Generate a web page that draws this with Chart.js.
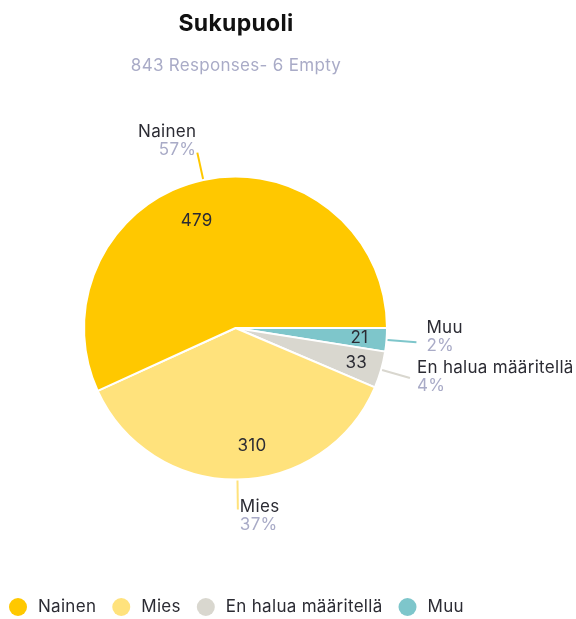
<!DOCTYPE html>
<html>
  <head>
    <meta charset="utf-8">
    <title>Sukupuoli</title>
    <style>
      html, body { margin: 0; padding: 0; background-color: #ffffff; }
      #wrap { position: relative; width: 576px; height: 619px; }
    </style>
    <script src="https://cdn.jsdelivr.net/npm/chart.js"></script>
  </head>
  <body>
    <div id="wrap">
      <canvas id="myChart" width="576" height="619"></canvas>
    </div>

    <script>
      // Data (legend order)
      const categories = ['Nainen', 'Mies', 'En halua määritellä', 'Muu'];
      const counts = [479, 310, 33, 21];
      const percents = ['57%', '37%', '4%', '2%'];
      const colors = ['#FFC800', '#FFE27C', '#D9D7CF', '#7EC6CB'];
      const titleText = 'Sukupuoli';
      const subtitleText = '843 Responses- 6 Empty';

      // slices run counter-clockwise from 3 o'clock in the reference,
      // Chart.js goes clockwise, so feed them in reverse
      const order = [3, 2, 1, 0];

      const FONT = 'Inter, "Noto Sans", sans-serif';
      const DARK = '#2b2b33';
      const GREY = '#A9ABC7';

      // leader line length + text placement per category
      const leader = [
        { len: 28, align: 'right', dx: -1, dy1: -21, dy2: -3 },   // Nainen
        { len: 30, align: 'left',  dx: 2,  dy1: -3,  dy2: 15 },   // Mies
        { len: 30, align: 'left',  dx: 7,  dy1: -10, dy2: 8 },    // En halua
        { len: 30, align: 'left',  dx: 10, dy1: -14, dy2: 4 }     // Muu
      ];
      // inside value labels: radius fraction + pixel nudge
      const inner = [
        { r: 0.74, nx: -15, ny: 2 },
        { r: 0.78, nx: 15, ny: 0 },
        { r: 0.83, nx: 0, ny: 0 },
        { r: 0.82, nx: 0, ny: 0 }
      ];

      function setFont(c, spec) {
        c.font = spec + ' ' + FONT;
        c.letterSpacing = '0.3px';
      }

      const labelPlugin = {
        id: 'pieLabels',
        afterDatasetsDraw(chart) {
          const ctx = chart.ctx;
          const meta = chart.getDatasetMeta(0);
          ctx.save();
          meta.data.forEach((arc, i) => {
            const c = order[i];
            const p = arc.getProps(['x', 'y', 'startAngle', 'endAngle', 'outerRadius'], true);
            const mid = (p.startAngle + p.endAngle) / 2;
            const cos = Math.cos(mid), sin = Math.sin(mid);

            // value inside slice
            const iv = inner[c];
            setFont(ctx, '17px');
            ctx.fillStyle = DARK;
            ctx.textAlign = 'center';
            ctx.textBaseline = 'middle';
            ctx.fillText(String(counts[c]), p.x + cos * p.outerRadius * iv.r + iv.nx, p.y + sin * p.outerRadius * iv.r + iv.ny);

            // leader line
            const L = leader[c];
            const sx = p.x + cos * (p.outerRadius + 1);
            const sy = p.y + sin * (p.outerRadius + 1);
            const ex = p.x + cos * (p.outerRadius + L.len);
            const ey = p.y + sin * (p.outerRadius + L.len);
            ctx.strokeStyle = colors[c];
            ctx.lineWidth = 2;
            ctx.beginPath();
            ctx.moveTo(sx, sy);
            ctx.lineTo(ex, ey);
            ctx.stroke();

            // outside text
            ctx.textAlign = L.align;
            setFont(ctx, '17px');
            ctx.fillStyle = DARK;
            ctx.fillText(categories[c], ex + L.dx, ey + L.dy1);
            ctx.fillStyle = GREY;
            ctx.fillText(percents[c], ex + L.dx, ey + L.dy2);
          });
          ctx.restore();
        },
        afterDraw(chart) {
          const ctx = chart.ctx;
          ctx.save();
          ctx.textAlign = 'center';
          ctx.textBaseline = 'middle';
          setFont(ctx, 'bold 23px');
          ctx.fillStyle = '#111111';
          ctx.fillText(titleText, 236, 24);
          setFont(ctx, '17px');
          ctx.fillStyle = GREY;
          ctx.fillText(subtitleText, 236, 66);

          // legend row
          let x = 18;
          const y = 607;
          ctx.textAlign = 'left';
          categories.forEach((name, c) => {
            ctx.fillStyle = colors[c];
            ctx.beginPath();
            ctx.arc(x, y, 9, 0, Math.PI * 2);
            ctx.fill();
            setFont(ctx, '17px');
            ctx.fillStyle = DARK;
            ctx.fillText(name, x + 20, y);
            x += 20 + ctx.measureText(name).width + 25;
          });
          ctx.restore();
        }
      };

      const ctx = document.getElementById('myChart').getContext('2d');
      const myChart = new Chart(ctx, {
        type: 'pie',
        data: {
          labels: order.map(i => categories[i]),
          datasets: [{
            data: order.map(i => counts[i]),
            backgroundColor: order.map(i => colors[i]),
            borderColor: '#ffffff',
            borderWidth: 2
          }]
        },
        options: {
          responsive: false,
          animation: false,
          rotation: 90,
          layout: { padding: { left: 83, right: 188, top: 175, bottom: 138 } },
          plugins: {
            legend: { display: false },
            tooltip: { enabled: false },
            title: { display: false }
          }
        },
        plugins: [labelPlugin]
      });
    </script>
  </body>
</html>
